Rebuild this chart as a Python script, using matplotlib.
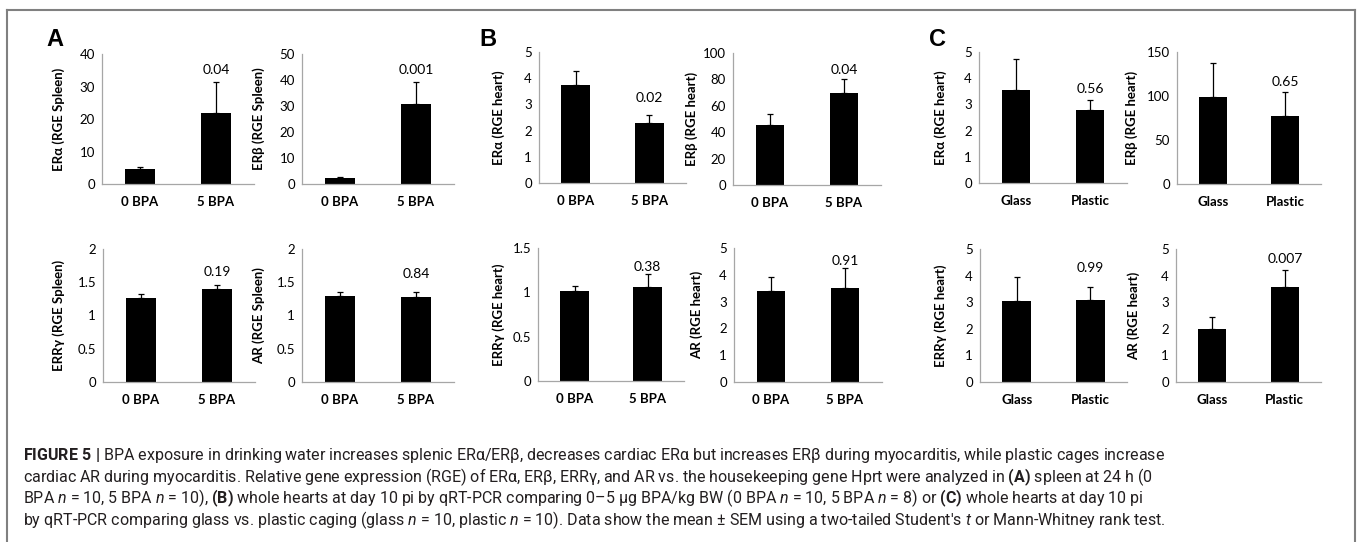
import numpy as np
import matplotlib
matplotlib.use("Agg")
import matplotlib.pyplot as plt
from matplotlib.lines import Line2D

# ---- data ----
bpa_groups = ["0 BPA", "5 BPA"]
cage_groups = ["Glass", "Plastic"]

# A: spleen at 24 h
spleen_era = [4.5, 21.9]
spleen_era_sem = [0.6, 9.6]
spleen_erb = [2.2, 30.6]
spleen_erb_sem = [0.6, 8.7]
spleen_errg = [1.26, 1.395]
spleen_errg_sem = [0.065, 0.065]
spleen_ar = [1.295, 1.285]
spleen_ar_sem = [0.065, 0.075]

# B: heart, 0 vs 5 BPA
heart_bpa_era = [3.75, 2.28]
heart_bpa_era_sem = [0.53, 0.31]
heart_bpa_erb = [45.6, 69.6]
heart_bpa_erb_sem = [8.1, 10.6]
heart_bpa_errg = [1.01, 1.06]
heart_bpa_errg_sem = [0.056, 0.146]
heart_bpa_ar = [3.40, 3.49]
heart_bpa_ar_sem = [0.51, 0.78]

# C: heart, glass vs plastic
heart_cage_era = [3.54, 2.78]
heart_cage_era_sem = [1.19, 0.38]
heart_cage_erb = [98.4, 76.8]
heart_cage_erb_sem = [39.1, 28.1]
heart_cage_errg = [3.05, 3.08]
heart_cage_errg_sem = [0.91, 0.48]
heart_cage_ar = [2.01, 3.58]
heart_cage_ar_sem = [0.42, 0.63]

p_values = ["0.04", "0.001", "0.19", "0.84",
            "0.02", "0.04", "0.38", "0.91",
            "0.56", "0.65", "0.99", "0.007"]

caption_lines = [
    r"$\mathbf{FIGURE\ 5\ |}$ BPA exposure in drinking water increases splenic ERα/ERβ, decreases cardiac ERα but increases ERβ during myocarditis, while plastic cages increase",
    r"cardiac AR during myocarditis. Relative gene expression (RGE) of ERα, ERβ, ERRγ, and AR vs. the housekeeping gene Hprt were analyzed in $\mathbf{(A)}$ spleen at 24 h (0",
    r"BPA $n$ = 10, 5 BPA $n$ = 10), $\mathbf{(B)}$ whole hearts at day 10 pi by qRT-PCR comparing 0–5 µg BPA/kg BW (0 BPA $n$ = 10, 5 BPA $n$ = 8) or $\mathbf{(C)}$ whole hearts at day 10 pi",
    r"by qRT-PCR comparing glass vs. plastic caging (glass $n$ = 10, plastic $n$ = 10). Data show the mean ± SEM using a two-tailed Student's $t$ or Mann-Whitney rank test.",
]

# ---- layout ----
W, H = 1357, 542
plt.rcParams['font.family'] = ['Lato', 'DejaVu Sans']
plt.rcParams['mathtext.fontset'] = 'custom'
plt.rcParams['mathtext.rm'] = 'Roboto'
plt.rcParams['mathtext.bf'] = 'Roboto:bold'
plt.rcParams['mathtext.it'] = 'Roboto:italic'

fig = plt.figure(figsize=(W / 100, H / 100), dpi=100)


def px_rect(l, t, r, b):
    return [l / W, 1 - b / H, (r - l) / W, (b - t) / H]


# rect (px), groups, values, sem, ymax, ystep, ylabel, p label height, ylabel offset (px)
panels = [
    ((102, 54, 254, 184), bpa_groups, spleen_era, spleen_era_sem, 40, 10, "ERα (RGE Spleen)", 35.0, 37),
    ((302, 54, 454, 184), bpa_groups, spleen_erb, spleen_erb_sem, 50, 10, "ERβ (RGE Spleen)", 43.8, 37),
    ((103, 249, 255, 382), bpa_groups, spleen_errg, spleen_errg_sem, 2, 0.5, "ERRγ (RGE Spleen)", 1.65, 38),
    ((302, 249, 454, 382), bpa_groups, spleen_ar, spleen_ar_sem, 2, 0.5, "AR (RGE Spleen)", 1.62, 37),
    ((539, 52, 686, 183), bpa_groups, heart_bpa_era, heart_bpa_era_sem, 5, 1, "ERα (RGE heart)", 3.24, 34),
    ((733, 53, 881, 185), bpa_groups, heart_bpa_erb, heart_bpa_erb_sem, 100, 20, "ERβ (RGE heart)", 87.1, 35),
    ((538, 248, 684, 381), bpa_groups, heart_bpa_errg, heart_bpa_errg_sem, 1.5, 0.5, "ERRγ (RGE heart)", 1.29, 33),
    ((734, 248, 882, 382), bpa_groups, heart_bpa_ar, heart_bpa_ar_sem, 5, 1, "AR (RGE heart)", 4.51, 31),
    ((979, 52, 1127, 183), cage_groups, heart_cage_era, heart_cage_era_sem, 5, 1, "ERα (RGE heart)", 3.57, 32),
    ((1177, 52, 1321, 184), cage_groups, heart_cage_erb, heart_cage_erb_sem, 150, 50, "ERβ (RGE heart)", 115.5, 39),
    ((980, 249, 1127, 382), cage_groups, heart_cage_errg, heart_cage_errg_sem, 5, 1, "ERRγ (RGE heart)", 4.27, 33),
    ((1176, 249, 1321, 382), cage_groups, heart_cage_ar, heart_cage_ar_sem, 5, 1, "AR (RGE heart)", 4.62, 36),
]

axis_color = "#a6a6a6"
for i, (rect, groups, vals, sem, ymax, ystep, ylabel, p_y, lab_off) in enumerate(panels):
    ax = fig.add_axes(px_rect(*rect))
    x = np.arange(len(groups))
    ax.bar(x, vals, width=0.39, color="black", zorder=2)
    ax.errorbar(x, vals, yerr=[np.zeros(len(vals)), sem], fmt="none",
                ecolor="black", elinewidth=0.9, capsize=2, capthick=0.9, zorder=3)
    ax.text(x[1], p_y, p_values[i], ha="center", va="center", fontsize=10)
    ax.set_xlim(-0.5, 1.5)
    ax.set_ylim(0, ymax)
    ticks = np.arange(0, ymax + ystep / 2, ystep)
    ax.set_yticks(ticks)
    ax.set_yticklabels([f"{t:g}" for t in ticks], fontsize=9.5)
    ax.set_xticks(x)
    ax.set_xticklabels(groups, fontsize=9.5, fontweight="bold")
    ax.tick_params(axis="y", length=0, pad=5)
    ax.tick_params(axis="x", length=0, pad=8.5)
    for s in ["top", "right"]:
        ax.spines[s].set_visible(False)
    for s in ["left", "bottom"]:
        ax.spines[s].set_color(axis_color)
        ax.spines[s].set_linewidth(0.9)
    ax.set_ylabel(ylabel, fontsize=9.5, fontweight="bold")
    ax.yaxis.set_label_coords(-lab_off / (rect[2] - rect[0]), 0.5)

# panel letters
for letter, lx, ly in [("A", 46, 39), ("B", 479, 39), ("C", 929, 40)]:
    fig.text(lx / W, 1 - ly / H, letter, fontsize=17, fontweight="bold",
             family="Liberation Sans", ha="left", va="center")

# frame around the figure
frame_color = "#808080"
fig.add_artist(Line2D([7 / W, 1355 / W], [1 - 10 / H, 1 - 10 / H], color=frame_color, lw=1.5))
fig.add_artist(Line2D([7 / W, 7 / W], [0, 1 - 10 / H], color=frame_color, lw=1.5))
fig.add_artist(Line2D([1355 / W, 1355 / W], [0, 1 - 10 / H], color=frame_color, lw=1.5))

# caption
for k, line in enumerate(caption_lines):
    fig.text(23 / W, 1 - (460 + 21.7 * k) / H, line, fontsize=11.5, family="Roboto",
             color="#231f20", ha="left", va="baseline")

fig.savefig("out.png", dpi=100)
